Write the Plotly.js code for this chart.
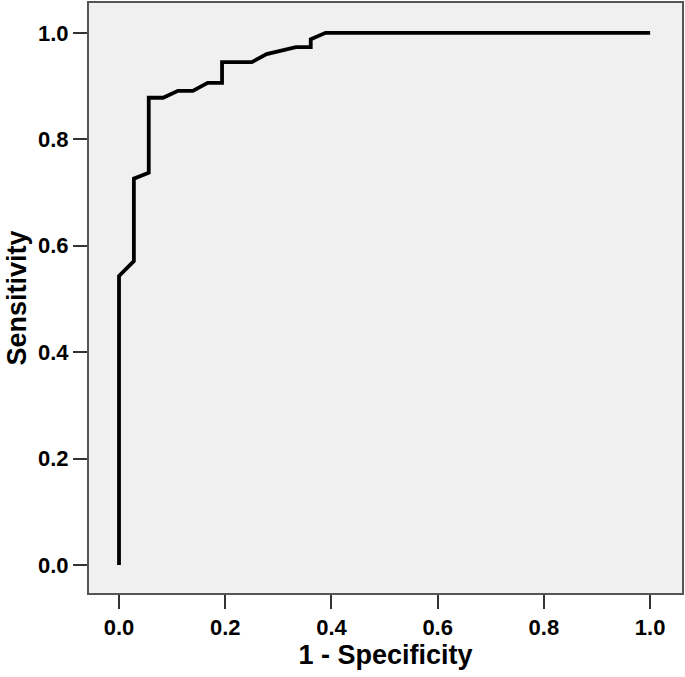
<!DOCTYPE html>
<html>
<head>
<meta charset="utf-8">
<script src="https://cdn.plot.ly/plotly-3.0.1.min.js"></script>
<style>html,body{margin:0;padding:0;background:#fff;}#chart{width:685px;height:677px;}</style>
</head>
<body>
<div id="chart"></div>
<script>
// ROC curve points (1 - Specificity, Sensitivity)
const fpr = [0, 0, 0.028, 0.028, 0.056, 0.056, 0.083, 0.111, 0.139, 0.167, 0.194, 0.194, 0.25, 0.278, 0.333, 0.361, 0.361, 0.389, 1.0];
const tpr = [0, 0.543, 0.571, 0.726, 0.737, 0.878, 0.878, 0.891, 0.891, 0.906, 0.906, 0.945, 0.945, 0.960, 0.973, 0.973, 0.988, 1.0, 1.0];
const xTicks = [0, 0.2, 0.4, 0.6, 0.8, 1.0];
const xTickLabels = ["0.0", "0.2", "0.4", "0.6", "0.8", "1.0"];
const yTicks = [0, 0.2, 0.4, 0.6, 0.8, 1.0];
const yTickLabels = ["0.0", "0.2", "0.4", "0.6", "0.8", "1.0"];
const xTitle = "1 - Specificity";
const yTitle = "Sensitivity";

const font = "Liberation Sans, Arial, sans-serif";
const trace = {
  x: fpr, y: tpr, type: "scatter", mode: "lines",
  line: {color: "#000000", width: 3.8, shape: "linear"},
  hoverinfo: "skip", showlegend: false
};
const axisCommon = {
  showgrid: false, zeroline: false, showline: true, mirror: true,
  linecolor: "#555555", linewidth: 2,
  ticks: "outside", ticklen: 14, tickwidth: 2, tickcolor: "#333333",
  tickfont: {family: font, size: 22, color: "#000", weight: "bold"},
  fixedrange: true
};
const layout = {
  width: 685, height: 677,
  margin: {l: 89, r: 3, t: 3, b: 84},
  paper_bgcolor: "#ffffff", plot_bgcolor: "#f0f0f0",
  xaxis: Object.assign({}, axisCommon, {
    range: [-0.0565, 1.060], tickvals: xTicks, ticktext: xTickLabels,
    title: {text: xTitle, font: {family: font, size: 27, color: "#000", weight: "bold"}, standoff: 6}
  }),
  yaxis: Object.assign({}, axisCommon, {
    range: [-0.0526, 1.056], tickvals: yTicks, ticktext: yTickLabels,
    title: {text: yTitle, font: {family: font, size: 27, color: "#000", weight: "bold"}, standoff: 4}
  })
};
Plotly.newPlot("chart", [trace], layout, {displayModeBar: false, staticPlot: true});
</script>
</body>
</html>
